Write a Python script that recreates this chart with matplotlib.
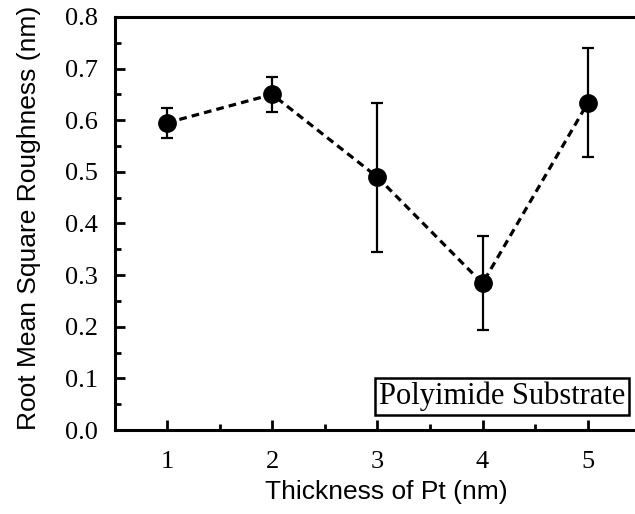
import matplotlib
matplotlib.use('Agg')
import matplotlib.pyplot as plt
from matplotlib.ticker import MultipleLocator

# data
thickness = [1, 2, 3, 4, 5]
rms = [0.595, 0.650, 0.490, 0.284, 0.633]
err_low = [0.030, 0.035, 0.145, 0.090, 0.104]
err_high = [0.029, 0.034, 0.144, 0.091, 0.106]

fig = plt.figure(figsize=(6.35, 5.14), dpi=100)
ax = fig.add_axes([0.181, 0.1634, 0.819, 0.8036])

ax.plot(thickness, rms, linestyle=(0, (2.4, 1.6)), color='black', lw=2.3, zorder=2)
ax.errorbar(thickness, rms, yerr=[err_low, err_high], fmt='o', color='black',
            ms=12.5, elinewidth=1.6, capsize=4, capthick=1.6, zorder=3)

ax.set_xlim(0.505, 5.45)
ax.set_ylim(0, 0.8)
ax.xaxis.set_major_locator(MultipleLocator(1))
ax.xaxis.set_minor_locator(MultipleLocator(0.5))
ax.yaxis.set_major_locator(MultipleLocator(0.1))
ax.yaxis.set_minor_locator(MultipleLocator(0.05))
ax.set_yticklabels(['%.1f' % v for v in ax.get_yticks()])

for s in ['left', 'top', 'bottom']:
    ax.spines[s].set_linewidth(2.2)
ax.spines['right'].set_visible(False)

ax.tick_params(which='both', direction='in', top=False, right=False, width=2)
ax.tick_params(which='major', length=7)
ax.tick_params(which='minor', length=4)
ax.tick_params(axis='y', pad=12)
ax.tick_params(axis='x', pad=15)
for lab in ax.get_xticklabels() + ax.get_yticklabels():
    lab.set_fontfamily('Liberation Serif')
    lab.set_fontsize(19)

ax.set_xlabel('Thickness of Pt (nm)', fontfamily='Liberation Sans', fontsize=19)
ax.set_ylabel('Root Mean Square Roughness (nm)', fontfamily='Liberation Sans', fontsize=19)
ax.xaxis.set_label_coords(0.521, -0.12)
ax.yaxis.set_label_coords(-0.142, 0.513)

ax.text(0.981, 0.081, 'Polyimide Substrate', transform=ax.transAxes, ha='right', va='center',
        fontfamily='Liberation Serif', fontsize=22,
        bbox=dict(boxstyle='square,pad=0.12', fc='white', ec='black', lw=1.8))

fig.savefig('out.png', dpi=100)
